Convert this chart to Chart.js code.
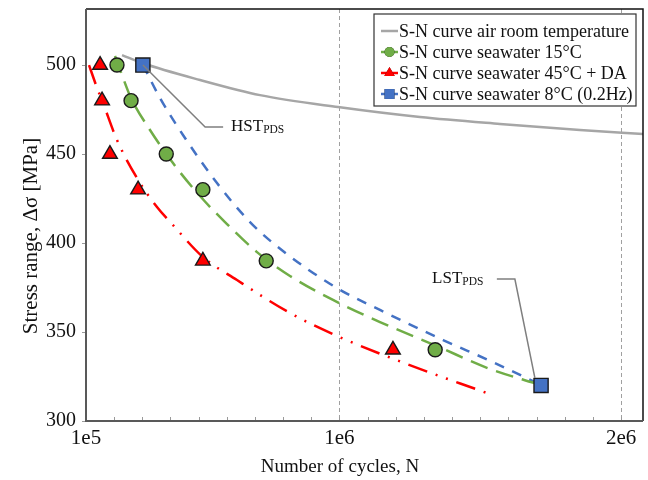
<!DOCTYPE html>
<html>
<head>
<meta charset="utf-8">
<script src="https://cdn.jsdelivr.net/npm/chart.js@4.4.0/dist/chart.umd.min.js"></script>
<style>
  html, body { margin: 0; padding: 0; background: #fff; overflow: hidden; }
  canvas { display: block; }
</style>
</head>
<body>
<canvas id="snChart" width="648" height="480"></canvas>
<script>
// values (N cycles, stress range MPa)
const airN = [2.28e5, 3.02e5, 5.05e5, 7.18e5, 9.95e5, 1.286e6, 1.57e6, 1.854e6, 2.078e6];
const airS = [505.6, 501, 491.6, 483.1, 476.4, 470.8, 466.9, 463.5, 461.2];

const sw15CurveN = [2.03e5, 2.278e5, 2.598e5, 3.273e5, 4.089e5, 5.048e5, 5.936e5, 7.072e5, 8.244e5, 9.771e5, 1.144e6, 1.346e6, 1.535e6, 1.716e6];
const sw15CurveS = [505.1, 494.4, 481.5, 463.5, 444.9, 426.4, 411.8, 394.9, 381.5, 368.0, 355.6, 342.1, 329.2, 320.2];
const sw15N = [2.1e5, 2.6e5, 3.85e5, 5.15e5, 7.4e5, 1.34e6];
const sw15S = [500, 480, 450, 430, 390, 340];

const sw45CurveN = [1.107e5, 1.355e5, 1.604e5, 2.101e5, 2.811e5, 3.521e5, 4.054e5, 5.155e5, 6.362e5, 8.244e5, 9.913e5, 1.24e6, 1.524e6];
const sw45CurveS = [500, 488.8, 478.7, 457.9, 436.5, 420.2, 410.7, 392.1, 379.2, 360.7, 347.8, 332.0, 315.7];
const sw45N = [1.5e5, 1.57e5, 1.85e5, 2.85e5, 5.15e5, 1.19e6];
const sw45S = [500, 480, 450, 430, 390, 340];

const sw8CurveN = [3.024e5, 3.628e5, 4.444e5, 5.652e5, 6.824e5, 7.995e5, 9.913e5, 1.144e6, 1.368e6, 1.545e6, 1.716e6];
const sw8CurveS = [500, 481.5, 460.7, 433.7, 411.8, 395.5, 374.7, 362.4, 345.5, 333.1, 320.2];
const sw8N = [3.02e5, 1.716e6];
const sw8S = [500, 320];

const seriesLabels = [
  "S-N curve air room temperature",
  "S-N curve seawater 15°C",
  "S-N curve seawater 45°C + DA",
  "S-N curve seawater 8°C (0.2Hz)",
];
const xTitle = "Number of cycles, N";
const yTitle = "Stress range, Δσ [MPa]";

const xTicks = [1e5, 2e5, 3e5, 4e5, 5e5, 6e5, 7e5, 8e5, 9e5, 1e6, 1.1e6, 1.2e6, 1.3e6, 1.4e6, 1.5e6, 1.6e6, 1.7e6, 1.8e6, 1.9e6, 2e6];
const xTickLabels = { 100000: "1e5", 1000000: "1e6", 2000000: "2e6" };
const yTicks = [300, 350, 400, 450, 500];

// leader lines for the two annotations (data units)
const hstLine = [[3.02e5, 500], [5.23e5, 465.2], [5.87e5, 465.2]];
const hstText = [6.15e5, 465.2];
const lstLine = [[1.559e6, 379.8], [1.623e6, 379.8], [1.694e6, 324.2]];
const lstText = [1.329e6, 379.8];

const pts = (xs, ys) => xs.map((x, i) => ({ x, y: ys[i] }));

const serif = "'Liberation Serif', 'Times New Roman', serif";
const colors = { air: "#a6a6a6", g: "#70ad47", r: "#ff0000", b: "#4472c4" };

const curve = (data, color, dash) => ({
  type: "line",
  data,
  borderColor: color,
  borderWidth: 2.5,
  borderDash: dash,
  pointRadius: 0,
  cubicInterpolationMode: "monotone",
  fill: false,
  order: 1,
});

const markers = (data, color, style, radius) => ({
  type: "scatter",
  data,
  showLine: false,
  pointStyle: style,
  pointRadius: radius,
  pointBackgroundColor: color,
  pointBorderColor: "#1a1a1a",
  pointBorderWidth: 1.4,
  order: 0,
});

const datasets = [
  curve(pts(airN, airS), colors.air, []),
  curve(pts(sw15CurveN, sw15CurveS), colors.g, [18, 9]),
  curve(pts(sw45CurveN, sw45CurveS), colors.r, [20, 9, 2, 9, 2, 9]),
  curve(pts(sw8CurveN, sw8CurveS), colors.b, [10, 9]),
  markers(pts(sw15N, sw15S), colors.g, "circle", 7),
  markers(pts(sw45N, sw45S), colors.r, "triangle", 8.5),
  markers(pts(sw8N, sw8S), colors.b, "rect", 10),
];

const legendItems = [
  { color: colors.air, style: null },
  { color: colors.g, style: "circle", r: 5 },
  { color: colors.r, style: "triangle", r: 6 },
  { color: colors.b, style: "rect", r: 7 },
];

const decor = {
  id: "decor",
  afterDraw(chart) {
    const { ctx, chartArea: a, scales } = chart;
    const X = (v) => scales.x.getPixelForValue(v);
    const Y = (v) => scales.y.getPixelForValue(v);
    ctx.save();

    // inner tick marks on the bottom axis
    ctx.strokeStyle = "#9a9a9a";
    ctx.lineWidth = 1;
    xTicks.forEach((v) => {
      const px = Math.round(X(v)) + 0.5;
      ctx.beginPath();
      ctx.moveTo(px, a.bottom);
      ctx.lineTo(px, a.bottom - 4);
      ctx.stroke();
    });

    // frame
    ctx.strokeStyle = "#111";
    ctx.lineWidth = 1.5;
    ctx.beginPath();
    ctx.moveTo(a.left, a.top);
    ctx.lineTo(a.right, a.top);
    ctx.lineTo(a.right, a.bottom);
    ctx.stroke();
    ctx.strokeStyle = "#595959";
    ctx.lineWidth = 2;
    ctx.beginPath();
    ctx.moveTo(a.left, a.top);
    ctx.lineTo(a.left, a.bottom);
    ctx.lineTo(a.right, a.bottom);
    ctx.stroke();

    // axis titles
    ctx.fillStyle = "#111";
    ctx.textAlign = "center";
    ctx.textBaseline = "middle";
    ctx.font = "19px " + serif;
    ctx.fillText(xTitle, 340, 467);
    ctx.save();
    ctx.translate(31, 236);
    ctx.rotate(-Math.PI / 2);
    ctx.font = "21px " + serif;
    ctx.fillText(yTitle, 0, 0);
    ctx.restore();
    ctx.textAlign = "left";

    // annotations
    ctx.strokeStyle = "#7f7f7f";
    ctx.lineWidth = 1.5;
    [hstLine, lstLine].forEach((line) => {
      ctx.beginPath();
      line.forEach(([x, y], i) => (i ? ctx.lineTo(X(x), Y(y)) : ctx.moveTo(X(x), Y(y))));
      ctx.stroke();
    });
    ctx.fillStyle = "#111";
    [[hstText, "HST"], [lstText, "LST"]].forEach(([[x, y], main]) => {
      ctx.font = "17px " + serif;
      const w = ctx.measureText(main).width;
      ctx.fillText(main, X(x), Y(y));
      ctx.font = "11.5px " + serif;
      ctx.fillText("PDS", X(x) + w, Y(y) + 3);
    });

    // legend
    const bx = 374, by = 14, bw = 262, bh = 92;
    ctx.fillStyle = "#fff";
    ctx.fillRect(bx, by, bw, bh);
    ctx.strokeStyle = "#333";
    ctx.lineWidth = 1.2;
    ctx.strokeRect(bx, by, bw, bh);
    ctx.font = "18px " + serif;
    legendItems.forEach((it, i) => {
      const cy = by + 17 + i * 21;
      ctx.strokeStyle = it.color;
      ctx.lineWidth = 2.5;
      ctx.beginPath();
      ctx.moveTo(bx + 7, cy);
      ctx.lineTo(bx + 24, cy);
      ctx.stroke();
      if (it.style) {
        Chart.helpers.drawPoint(ctx, {
          pointStyle: it.style, radius: it.r, borderWidth: 0,
        }, bx + 15.5, cy);
        ctx.fillStyle = it.color;
        ctx.fill();
      }
      ctx.fillStyle = "#111";
      ctx.fillText(seriesLabels[i], bx + 25, cy + 1);
    });
    ctx.restore();
  },
};

new Chart(document.getElementById("snChart"), {
  data: { datasets },
  options: {
    responsive: false,
    devicePixelRatio: 1,
    animation: false,
    layout: { autoPadding: false, padding: { top: 9, right: 5, left: 0, bottom: 0 } },
    plugins: { legend: { display: false }, tooltip: { enabled: false } },
    scales: {
      x: {
        type: "linear",
        min: 1e5,
        max: 2.078e6,
        afterBuildTicks: (s) => { s.ticks = xTicks.map((value) => ({ value })); },
        afterFit: (s) => { s.height = 59; s.paddingLeft = 0; s.paddingRight = 0; },
        border: { display: false, dash: [4, 3] },
        grid: {
          drawTicks: false,
          color: (c) => (c.tick && (c.tick.value === 1e6 || c.tick.value === 2e6) ? "#a0a0a0" : "rgba(0,0,0,0)"),
          lineWidth: 1,
        },
        ticks: {
          autoSkip: false,
          maxRotation: 0,
          padding: 5,
          color: "#111",
          font: { family: serif, size: 21 },
          callback: (v) => xTickLabels[v] || "",
        },
      },
      y: {
        type: "linear",
        min: 300,
        max: 531.5,
        afterBuildTicks: (s) => { s.ticks = yTicks.map((value) => ({ value })); },
        afterFit: (s) => { s.width = 86; s.paddingTop = 0; s.paddingBottom = 0; },
        border: { display: false },
        grid: { drawOnChartArea: false, drawTicks: true, tickLength: 4, tickColor: "#9a9a9a" },
        ticks: {
          padding: 6,
          color: "#111",
          font: { family: serif, size: 20 },
        },
      },
    },
  },
  plugins: [decor],
});
</script>
</body>
</html>
